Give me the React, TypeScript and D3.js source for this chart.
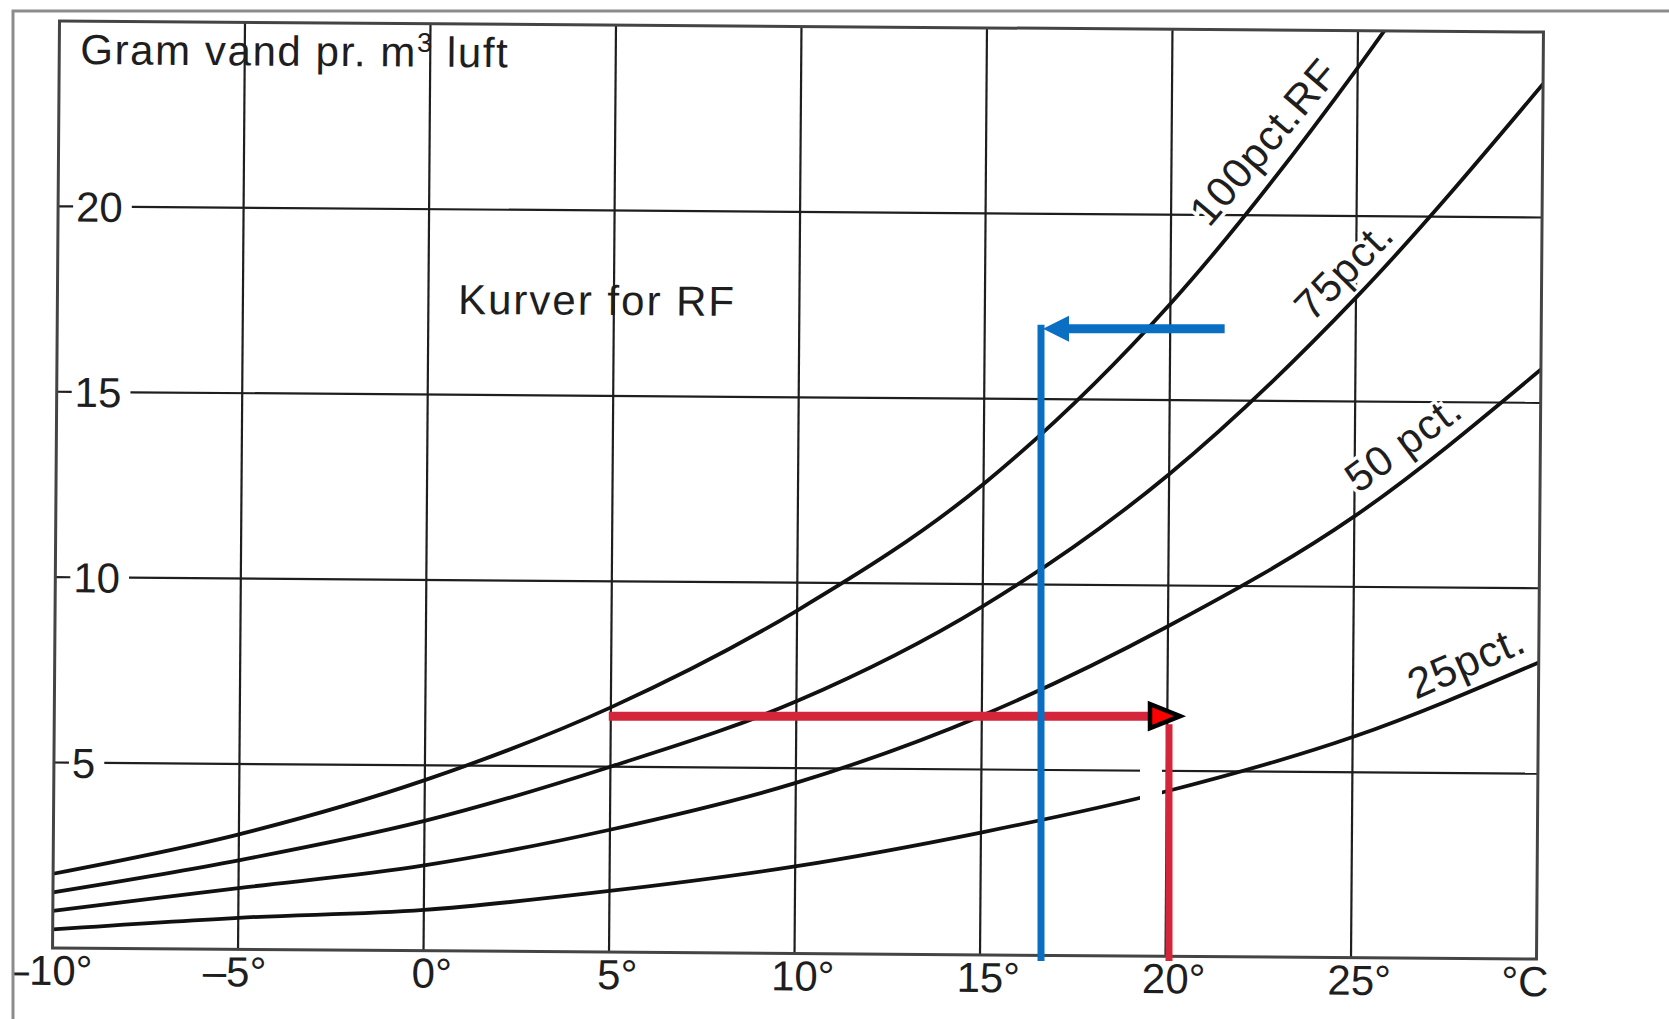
import React from "react";
import * as d3 from "d3";

// ---- data ----
const TEMPS = [-10, -5, 0, 5, 10, 15, 20, 25, 30];
const RF100 = [2.0, 3.1, 4.6, 6.6, 9.25, 12.7, 17.6, 24.0, 31.5];
const RF75 = [1.5, 2.4, 3.5, 5.0, 6.8, 9.4, 13.0, 17.8, 23.6];
const RF50 = [1.0, 1.65, 2.3, 3.3, 4.6, 6.45, 8.9, 11.9, 15.9];
const RF25 = [0.5, 0.85, 1.1, 1.65, 2.35, 3.3, 4.45, 5.95, 8.0];

const X_TICKS = [-10, -5, 0, 5, 10, 15, 20, 25];
const X_UNIT = "°C";
const Y_TICKS = [5, 10, 15, 20];
const Y_TITLE_A = "Gram vand pr. m";
const Y_TITLE_SUP = "3";
const Y_TITLE_B = " luft";
const SUBTITLE = "Kurver for RF";
const CURVE_LABELS = ["100pct.RF", "75pct.", "50 pct.", "25pct."];
const LABEL_TEMPS = [23.05, 25.2, 26.75, 28.35];

// annotation values (°C, g/m³)
const RED_PATH = { t0: 4.9, t1: 20, g: 6.4 };
const BLUE_PATH = { t: 16.55, tEnd: 21.5, g: 16.85 };

const W = 1669;
const H = 1019;
const FONT = "'Liberation Sans', Arial, Helvetica, sans-serif";

export default function App() {
  const left = 56, right = 1540, top = 26.5, bottom = 953.5;
  const x = d3.scaleLinear().domain([-10, 30]).range([left, right]);
  const y = d3.scaleLinear().domain([0, 25]).range([bottom, top]);
  const cx = (left + right) / 2;
  const cy = (top + bottom) / 2;

  const line = d3
    .line<[number, number]>()
    .x((d) => x(d[0]))
    .y((d) => y(d[1]))
    .curve(d3.curveMonotoneX);

  const series = [RF100, RF75, RF50, RF25];
  const fsTick = 42;
  const digitW = 0.556 * fsTick;

  const labelAngles = [-50, -46, -37, -24];
  const labelSizes = [42, 42, 42, 43];

  const ink = "#1e1e1e";
  const red = "#d3263a";
  const blue = "#0a6fc2";

  return (
    <svg
      width={W}
      height={H}
      style={{ position: "absolute", left: 0, top: 0, background: "#fff" }}
      fontFamily={FONT}
    >
      <rect x={0} y={0} width={W} height={H} fill="#fff" />
      <defs>
        <clipPath id="plotclip">
          <rect x={left} y={top} width={right - left} height={bottom - top} />
        </clipPath>
      </defs>
      <g transform={`rotate(0.43, ${cx}, ${cy})`}>
        {/* vertical grid */}
        {X_TICKS.filter((t) => t > -10).map((t) => (
          <line key={"vx" + t} x1={x(t)} x2={x(t)} y1={top} y2={bottom} stroke={ink} strokeWidth={2.2} />
        ))}
        {/* horizontal grid with label gaps */}
        {Y_TICKS.map((v) => {
          const w = String(v).length * digitW;
          return (
            <g key={"hy" + v}>
              <line x1={left} x2={left + 15} y1={y(v)} y2={y(v)} stroke={ink} strokeWidth={2.2} />
              <line x1={left + 17 + w + 10} x2={right} y1={y(v)} y2={y(v)} stroke={ink} strokeWidth={2.2} />
              <text x={left + 18} y={y(v) + 15} fontSize={fsTick} fill={ink}>
                {v}
              </text>
            </g>
          );
        })}
        {/* curve labels, sitting just above their curves */}
        {CURVE_LABELS.map((lab, i) => {
          const t = LABEL_TEMPS[i];
          const g = d3.scaleLinear().domain(TEMPS).range(series[i])(t);
          const px = x(t);
          const py = y(g);
          return (
            <text
              key={"cl" + i}
              x={px}
              y={py}
              dy={-13}
              transform={`rotate(${labelAngles[i]}, ${px}, ${py})`}
              textAnchor="middle"
              fontSize={labelSizes[i]}
              letterSpacing={1}
              fill={ink}
              stroke="#fff"
              strokeWidth={7}
              paintOrder="stroke"
            >
              {lab}
            </text>
          );
        })}
        {/* curves */}
        <g clipPath="url(#plotclip)">
          {series.map((s, i) => (
            <path
              key={"c" + i}
              d={line(TEMPS.map((t, j) => [t, s[j]] as [number, number])) || ""}
              fill="none"
              stroke="#111"
              strokeWidth={3.8}
            />
          ))}
        </g>
        {/* plot border */}
        <rect x={left} y={top} width={right - left} height={bottom - top} fill="none" stroke="#444" strokeWidth={3} />
        {/* x tick labels */}
        {X_TICKS.map((t) => {
          const digits = String(Math.abs(t));
          const w = digits.length * digitW;
          const start = x(t) - w / 2 - (t < 0 ? 0.556 * fsTick : 0);
          return (
            <text key={"xt" + t} x={start} y={bottom + 37} fontSize={fsTick} fill={ink}>
              {(t < 0 ? "–" : "") + digits + "°"}
            </text>
          );
        })}
        <text x={x(30) - 35} y={bottom + 37} fontSize={fsTick} fill={ink}>
          {X_UNIT}
        </text>
        {/* titles */}
        <text x={left + 21} y={top + 43} fontSize={42} letterSpacing={1.6} fill={ink}>
          {Y_TITLE_A}
          <tspan fontSize={27} dy={-15}>{Y_TITLE_SUP}</tspan>
          <tspan dy={15}>{Y_TITLE_B}</tspan>
        </text>
        <text x={x(0.8)} y={y(17.18)} fontSize={42} letterSpacing={2} fill={ink}>
          {SUBTITLE}
        </text>
      </g>

      {/* erased patch of the scan */}
      <rect x={1140} y={762} width={22} height={40} fill="#fff" />

      {/* red annotation */}
      <line x1={x(RED_PATH.t0)} x2={x(RED_PATH.t1) - 14} y1={y(RED_PATH.g)} y2={y(RED_PATH.g)} stroke={red} strokeWidth={9} />
      <line x1={x(RED_PATH.t1)} x2={x(RED_PATH.t1)} y1={y(RED_PATH.g) + 8} y2={y(-0.2)} stroke={red} strokeWidth={7} />
      <polygon
        points={`${x(RED_PATH.t1) + 11},${y(RED_PATH.g)} ${x(RED_PATH.t1) - 19},${y(RED_PATH.g) - 12} ${x(RED_PATH.t1) - 19},${y(RED_PATH.g) + 12}`}
        fill="#ff0000"
        stroke="#000"
        strokeWidth={4.5}
        strokeLinejoin="miter"
      />

      {/* blue annotation */}
      <line x1={x(BLUE_PATH.t)} x2={x(BLUE_PATH.t)} y1={y(-0.2)} y2={y(BLUE_PATH.g) - 4} stroke={blue} strokeWidth={7} />
      <line x1={x(BLUE_PATH.t) + 20} x2={x(BLUE_PATH.tEnd)} y1={y(BLUE_PATH.g)} y2={y(BLUE_PATH.g)} stroke={blue} strokeWidth={9} />
      <polygon
        points={`${x(BLUE_PATH.t) + 2},${y(BLUE_PATH.g)} ${x(BLUE_PATH.t) + 28},${y(BLUE_PATH.g) - 13} ${x(BLUE_PATH.t) + 28},${y(BLUE_PATH.g) + 13}`}
        fill={blue}
      />

      {/* scan frame */}
      <rect x={0} y={0} width={12} height={H} fill="#fff" />
      <polyline points={`13,${H} 13,11 ${W},11`} fill="none" stroke="#8c8c8c" strokeWidth={3} />
    </svg>
  );
}
